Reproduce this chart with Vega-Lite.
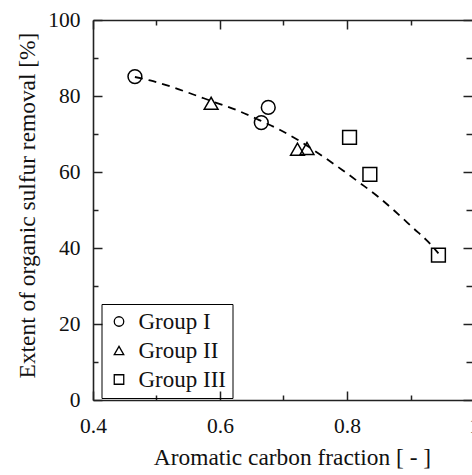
{
  "$schema": "https://vega.github.io/schema/vega-lite/v6.json",
  "width": 381,
  "height": 380,
  "autosize": {"type": "none"},
  "padding": {"left": 93, "top": 20, "right": 0, "bottom": 75},
  "background": "white",
  "config": {
    "view": {"stroke": null},
    "font": "Liberation Serif",
    "axis": {
      "grid": false,
      "domainColor": "#222",
      "domainWidth": 1.6,
      "tickColor": "#222",
      "tickWidth": 1.5,
      "labelFont": "Liberation Serif",
      "labelFontSize": 21.5,
      "labelColor": "#111",
      "labelFlush": false,
      "titleFont": "Liberation Serif",
      "titleFontSize": 23.4,
      "titleFontWeight": "normal",
      "titleColor": "#111"
    }
  },
  "layer": [
    {
      "data": {"values": [
        {"x": 0.466, "y": 85.0}, {"x": 0.49, "y": 84.1}, {"x": 0.524, "y": 82.4},
        {"x": 0.558, "y": 80.4}, {"x": 0.586, "y": 78.7}, {"x": 0.626, "y": 76.3},
        {"x": 0.66, "y": 73.8}, {"x": 0.694, "y": 71.1}, {"x": 0.726, "y": 68.1},
        {"x": 0.763, "y": 64.0}, {"x": 0.792, "y": 60.6}, {"x": 0.818, "y": 57.4},
        {"x": 0.849, "y": 53.5}, {"x": 0.876, "y": 49.6}, {"x": 0.904, "y": 45.3},
        {"x": 0.928, "y": 41.6}, {"x": 0.944, "y": 38.6}
      ]},
      "mark": {"type": "line", "color": "black", "strokeDash": [8, 6], "strokeWidth": 1.8, "interpolate": "monotone"},
      "encoding": {
        "x": {"field": "x", "type": "quantitative", "scale": {"domain": [0.4, 1.0], "nice": false, "zero": false},
          "axis": {"orient": "top", "title": null, "labels": false,
            "values": [0.4, 0.5, 0.6, 0.7, 0.8, 0.9, 1.0],
            "tickSize": {"condition": {"test": "round(datum.value*10) % 2 == 0", "value": -9}, "value": -5}}},
        "y": {"field": "y", "type": "quantitative", "scale": {"domain": [0, 100], "nice": false},
          "axis": {"orient": "right", "title": null, "labels": false,
            "values": [0, 10, 20, 30, 40, 50, 60, 70, 80, 90, 100],
            "tickSize": {"condition": {"test": "datum.value % 20 == 0", "value": -11}, "value": -8}}}
      }
    },
    {
      "data": {"values": [
        {"x": 0.466, "y": 85.1, "group": "Group I"},
        {"x": 0.665, "y": 73.0, "group": "Group I"},
        {"x": 0.676, "y": 77.0, "group": "Group I"},
        {"x": 0.586, "y": 78.1, "group": "Group II"},
        {"x": 0.722, "y": 66.0, "group": "Group II"},
        {"x": 0.737, "y": 66.2, "group": "Group II"},
        {"x": 0.804, "y": 69.1, "group": "Group III"},
        {"x": 0.836, "y": 59.4, "group": "Group III"},
        {"x": 0.944, "y": 38.1, "group": "Group III"}
      ]},
      "mark": {"type": "point", "filled": false, "color": "black", "strokeWidth": 1.5, "size": 190, "opacity": 1},
      "encoding": {
        "x": {"field": "x", "type": "quantitative", "scale": {"domain": [0.4, 1.0], "nice": false, "zero": false},
          "axis": {"orient": "bottom", "title": "Aromatic carbon fraction [ - ]",
            "values": [0.4, 0.5, 0.6, 0.7, 0.8, 0.9, 1.0], "format": "~g",
            "labelExpr": "round(datum.value*10) % 2 == 0 ? datum.label : ''",
            "labelPadding": 24,
            "tickSize": {"condition": {"test": "round(datum.value*10) % 2 == 0", "value": -9}, "value": -5},
            "titleX": 199, "titleY": 57, "titleBaseline": "middle", "titleAlign": "center"}},
        "y": {"field": "y", "type": "quantitative", "scale": {"domain": [0, 100], "nice": false},
          "axis": {"orient": "left", "title": "Extent of organic sulfur removal [%]",
            "values": [0, 10, 20, 30, 40, 50, 60, 70, 80, 90, 100],
            "labelExpr": "datum.value % 20 == 0 ? datum.label : ''",
            "labelPadding": 22,
            "tickSize": {"condition": {"test": "datum.value % 20 == 0", "value": -9}, "value": -5},
            "titleX": -66, "titleY": 185, "titleAngle": -90, "titleBaseline": "middle", "titleAlign": "center"}},
        "shape": {"field": "group", "type": "nominal",
          "scale": {"domain": ["Group I", "Group II", "Group III"], "range": ["circle", "triangle-up", "square"]},
          "legend": {"title": null, "orient": "none", "legendX": 8.5, "legendY": 284,
            "strokeColor": "black", "padding": 6, "labelFont": "Liberation Serif", "labelFontSize": 23,
            "labelColor": "#111", "symbolSize": 90, "symbolStrokeWidth": 1.3, "symbolStrokeColor": "black",
            "rowPadding": 5, "labelOffset": 8, "symbolOffset": 0}}
      }
    }
  ],
  "resolve": {"axis": {"x": "independent", "y": "independent"}}
}
